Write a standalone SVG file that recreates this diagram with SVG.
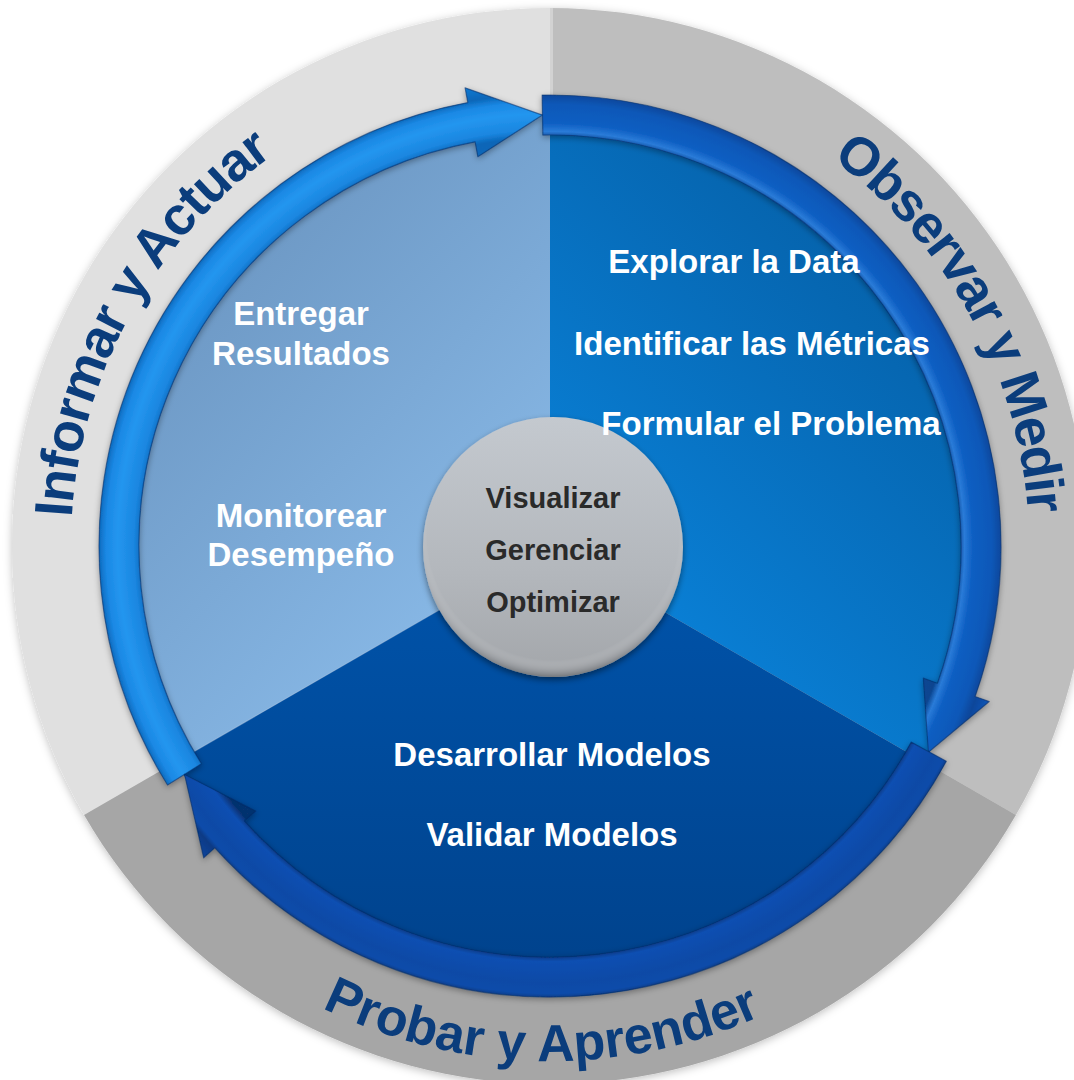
<svg xmlns="http://www.w3.org/2000/svg" xmlns:xlink="http://www.w3.org/1999/xlink" width="1074" height="1080" viewBox="0 0 1074 1080">
  <defs>
    <style>
      .ring-label { font-family: "Liberation Sans", Arial, sans-serif; font-weight: bold; font-size: 54px; fill: #0b3d7c; }
      .step { font-family: "Liberation Sans", Arial, sans-serif; font-weight: bold; font-size: 33px; fill: #ffffff; text-anchor: middle; }
      .hub-text { font-family: "Liberation Sans", Arial, sans-serif; font-weight: bold; font-size: 29px; fill: #2a2a2a; text-anchor: middle; }
      .arrow { stroke: #062c66; stroke-opacity: 0.55; stroke-width: 1.2; stroke-linejoin: round; }
    </style>

    <!-- soft shadows -->
    <filter id="discShadow" x="-10%" y="-10%" width="120%" height="120%">
      <feDropShadow dx="0" dy="2" stdDeviation="4" flood-color="#000" flood-opacity="0.25"/>
    </filter>
    <filter id="arrowShadow" x="-10%" y="-10%" width="120%" height="120%">
      <feDropShadow dx="0" dy="2" stdDeviation="3" flood-color="#000" flood-opacity="0.35"/>
    </filter>
    <filter id="hubShadow" x="-20%" y="-20%" width="140%" height="140%">
      <feDropShadow dx="0" dy="3" stdDeviation="3" flood-color="#000" flood-opacity="0.45"/>
    </filter>

    <!-- pie sector fills -->
    <linearGradient id="pieLeft" gradientUnits="userSpaceOnUse" x1="200" y1="250" x2="560" y2="600">
      <stop offset="0" stop-color="#6c97c3"/>
      <stop offset="1" stop-color="#8bbcea"/>
    </linearGradient>
    <linearGradient id="pieRight" gradientUnits="userSpaceOnUse" x1="560" y1="620" x2="930" y2="260">
      <stop offset="0" stop-color="#0a84dc"/>
      <stop offset="1" stop-color="#0560a8"/>
    </linearGradient>
    <linearGradient id="pieBottom" gradientUnits="userSpaceOnUse" x1="550" y1="620" x2="550" y2="980">
      <stop offset="0" stop-color="#0051a6"/>
      <stop offset="1" stop-color="#00428c"/>
    </linearGradient>

    <!-- tube shading across the arrow band (band 411..451 of r=470) -->
    <radialGradient id="arrowLight" gradientUnits="userSpaceOnUse" cx="550" cy="546" r="470">
      <stop offset="0" stop-color="#0a6cc0"/>
      <stop offset="0.868" stop-color="#0a66b8"/>
      <stop offset="0.885" stop-color="#1a86e0"/>
      <stop offset="0.92" stop-color="#2496ef"/>
      <stop offset="0.945" stop-color="#1a88e4"/>
      <stop offset="0.962" stop-color="#0b66b8"/>
      <stop offset="1" stop-color="#1580dc"/>
    </radialGradient>
    <radialGradient id="arrowMid" gradientUnits="userSpaceOnUse" cx="550" cy="546" r="470">
      <stop offset="0" stop-color="#0c5cc0"/>
      <stop offset="0.868" stop-color="#0a4590"/>
      <stop offset="0.882" stop-color="#2a7bd8"/>
      <stop offset="0.9" stop-color="#0d5ec2"/>
      <stop offset="0.94" stop-color="#0c58b8"/>
      <stop offset="0.962" stop-color="#0a469a"/>
      <stop offset="1" stop-color="#0d5cc2"/>
    </radialGradient>
    <radialGradient id="arrowDark" gradientUnits="userSpaceOnUse" cx="550" cy="546" r="470">
      <stop offset="0" stop-color="#0b4aa8"/>
      <stop offset="0.868" stop-color="#06306e"/>
      <stop offset="0.884" stop-color="#0c4fb2"/>
      <stop offset="0.93" stop-color="#0a4aa6"/>
      <stop offset="0.952" stop-color="#0c4caa"/>
      <stop offset="0.962" stop-color="#083a85"/>
      <stop offset="1" stop-color="#0a48a2"/>
    </radialGradient>

    <!-- hub -->
    <linearGradient id="hubFill" x1="0" y1="0" x2="0" y2="1">
      <stop offset="0" stop-color="#c4c9cf"/>
      <stop offset="0.6" stop-color="#b3b7bc"/>
      <stop offset="1" stop-color="#a3a6aa"/>
    </linearGradient>
    <radialGradient id="hubRim" cx="0.5" cy="0.45" r="0.55">
      <stop offset="0.88" stop-color="#ffffff" stop-opacity="0"/>
      <stop offset="0.97" stop-color="#6e7176" stop-opacity="0.35"/>
      <stop offset="1" stop-color="#55585c" stop-opacity="0.6"/>
    </radialGradient>

    <!-- label baselines -->
    <path id="arcInform" d="M 139.42 792.70 A 479 479 0 0 1 541.64 67.07"/>
    <path id="arcObserve" d="M 558.36 67.07 A 479 479 0 0 1 960.58 792.70"/>
    <path id="arcTest" d="M 99.57 795.68 A 515 515 0 0 0 991.44 811.25"/>
  </defs>

  <rect width="1074" height="1080" fill="#ffffff"/>

  <!-- outer grey ring, three sectors -->
  <g id="outer-ring" filter="url(#discShadow)">
    <path d="M 550 546 L 84.08 815 A 538 538 0 0 1 550 8 Z" fill="#e0e0e0"/>
    <path d="M 550 546 L 550 8 A 538 538 0 0 1 1015.92 815 Z" fill="#bebebe"/>
    <path d="M 550 546 L 1015.92 815 A 538 538 0 0 1 84.08 815 Z" fill="#a6a6a6"/>
    <line x1="551.5" y1="8" x2="551.5" y2="120" stroke="#d2d2d2" stroke-width="3"/>
  </g>

  <!-- inner pie sectors -->
  <g id="sector-inform">
    <path d="M 550 546 L 175.88 762 A 432 432 0 0 1 550 114 Z" fill="url(#pieLeft)"/>
  </g>
  <g id="sector-observe">
    <path d="M 550 546 L 550 114 A 432 432 0 0 1 924.12 762 Z" fill="url(#pieRight)"/>
  </g>
  <g id="sector-test">
    <path d="M 550 546 L 924.12 762 A 432 432 0 0 1 175.88 762 Z" fill="url(#pieBottom)"/>
    <line x1="550" y1="546" x2="175.88" y2="762" stroke="#a9c8ea" stroke-opacity="0.5" stroke-width="1.2"/>
  </g>

  <!-- cycle arrows -->
  <g id="connectors" filter="url(#arrowShadow)">
    <path id="arrow-inform" class="arrow" fill="url(#arrowLight)"
          d="M 167.53 785.0 A 451 451 0 0 1 467.81 102.55 L 465.08 87.81 L 542.48 115.07 L 477.83 156.63 L 475.10 141.88 A 411 411 0 0 0 201.45 763.8 Z"/>
    <path id="arrow-observe" class="arrow" fill="url(#arrowMid)"
          d="M 542.13 95.07 A 451 451 0 0 1 975.13 696.55 L 989.27 701.56 L 928.41 752.32 L 923.29 678.19 L 937.43 683.20 A 411 411 0 0 0 542.83 135.06 Z"/>
    <path id="arrow-test" class="arrow" fill="url(#arrowDark)"
          d="M 946.35 761.20 A 451 451 0 0 1 214.84 847.78 L 203.70 857.81 L 184.49 774.40 L 255.72 810.98 L 244.57 821.01 A 411 411 0 0 0 911.20 742.11 Z"/>
  </g>

  <!-- phase labels on the outer ring -->
  <g id="label-inform">
    <text class="ring-label" letter-spacing="-1.2"><textPath xlink:href="#arcInform" href="#arcInform" startOffset="50%" text-anchor="middle">Informar y Actuar</textPath></text>
  </g>
  <g id="label-observe">
    <text class="ring-label" letter-spacing="-1.5"><textPath xlink:href="#arcObserve" href="#arcObserve" startOffset="50%" text-anchor="middle">Observar y Medir</textPath></text>
  </g>
  <g id="label-test">
    <text class="ring-label" style="font-size:52px"><textPath xlink:href="#arcTest" href="#arcTest" startOffset="50%" text-anchor="middle">Probar y Aprender</textPath></text>
  </g>

  <!-- central hub -->
  <g id="hub">
    <circle cx="553" cy="547" r="130" fill="url(#hubFill)" filter="url(#hubShadow)"/>
    <circle cx="553" cy="547" r="130" fill="url(#hubRim)"/>
    <text class="hub-text" x="553" y="508">Visualizar</text>
    <text class="hub-text" x="553" y="560">Gerenciar</text>
    <text class="hub-text" x="553" y="612">Optimizar</text>
  </g>

  <!-- step texts -->
  <g id="steps-inform">
    <text class="step" x="301" y="325">Entregar</text>
    <text class="step" x="301" y="365">Resultados</text>
    <text class="step" x="301" y="527">Monitorear</text>
    <text class="step" x="301" y="566">Desempeño</text>
  </g>
  <g id="steps-observe">
    <text class="step" x="734" y="273">Explorar la Data</text>
    <text class="step" x="752" y="355">Identificar las Métricas</text>
    <text class="step" x="771" y="435">Formular el Problema</text>
  </g>
  <g id="steps-test">
    <text class="step" x="552" y="766">Desarrollar Modelos</text>
    <text class="step" x="552" y="846">Validar Modelos</text>
  </g>
</svg>
